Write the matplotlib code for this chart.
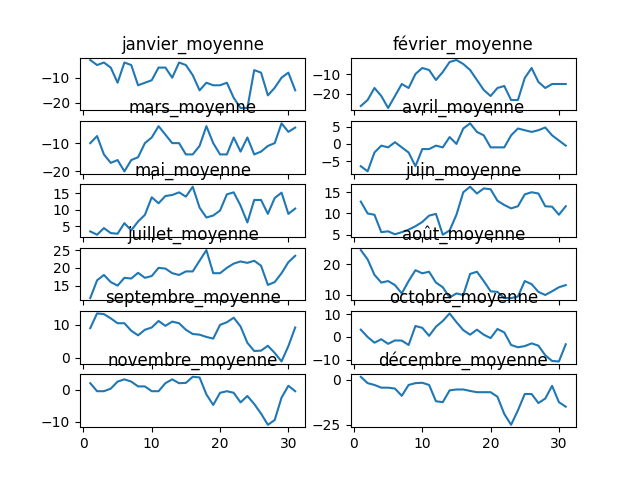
import matplotlib
matplotlib.use("Agg")
import matplotlib.pyplot as plt
import numpy as np

days = list(range(1, 32))
janvier = [-3,-5,-4,-6,-12,-4,-5,-13,-12,-11,-6,-6,-10,-4,-5,-9,-15,-12,-13,-13,-12,-18,-22,-22,-7,-8,-17,-14,-10,-8,-15]
fevrier = [-26,-23,-17,-21,-27,-21,-15,-17,-10,-7,-8,-13,-9,-4,-3,-5,-8,-13,-18,-21,-17,-16,-23,-23,-12,-7,-14,-17,-15,-15,-15]
mars = [-10,-7.5,-14,-17,-16,-20,-16,-15,-10,-8,-4,-7,-10,-10,-14,-14,-11,-4,-10,-14,-14,-8,-13,-8,-14,-13,-11,-10,-3,-6,-4.5]
avril = [-6.5,-8,-2.5,-0.5,-1,0.5,-1,-2.5,-6.5,-1.5,-1.5,-0.5,-1,2,0,4.5,6,3.5,2.5,-1,-1,-1,2.5,4.5,4,3.5,4,4.8,2.5,1,-0.5]
mai = [3.5,2.5,4.5,3,2.8,6,3.8,6.5,8.5,13.8,12,14.2,14.5,15.3,14,17,10.7,7.7,8.3,9.8,14.7,15.3,11.3,6.2,13,13,8.8,13.6,15.2,8.8,10.4]
juin = [12.8,10,9.7,5.6,5.8,5.1,5.6,6.2,7,8,9.5,9.9,5,6,9.7,15,16.3,14.7,15.9,15.7,13,12,11.2,11.7,11.7,14.5,15,14.7,11.7,11.6,9.7][:30] + [11.7]
juillet = [11.5,16.5,18,16,15,17.2,17,18.6,17.2,17.7,20,19.8,18.5,18,19,19,22,25,18.5,18.5,20,21.2,21.8,21.4,22,20.6,15.2,16,18.5,21.6,23.4]
aout = [24.5,21.5,16.5,14,14.5,13.2,10.5,14.5,18,17,17.5,14,12.5,9.2,10.5,10,16.8,17.5,14.5,11.2,11,9,9,9.5,14.5,13.5,11,10,11.2,12.5,13.2]
septembre = [9,13.5,13.3,12,10.5,10.5,8.2,6.8,8.5,9.2,11.2,9.7,11,10.5,8.5,7.2,7,6.3,5.8,10,10.8,12.2,9.5,4.5,2,2.1,3.6,1.4,-1.2,3.5,9.2]
octobre = [3.2,0,-2.5,-1,-3,-1.5,-1.6,-3.5,4.8,4,0.5,4.5,7,10.3,6.5,3,1,3.2,1,-0.5,3.5,2,-3.5,-4.5,-4,-2.8,-3.8,-8,-10.5,-10.7,-3.2]
novembre = [2,-0.5,-0.5,0.3,2.5,3.2,2.5,1,1,-0.5,-0.5,2,3.2,2,2.1,4,3.8,-1.5,-4.8,-1,-0.5,-1,-4,-2,-4.5,-7.5,-11,-9.5,-2.5,1.2,-0.5]
decembre = [1.5,-2,-3,-4.5,-4.5,-5,-9,-3,-2,-1.8,-3,-12,-12.5,-6,-5.5,-5.5,-6.3,-7,-7,-7,-9.5,-19,-25,-17,-8,-8,-13,-10.5,-3.5,-12.5,-15]

# fix juin to 31 values
juin = [12.8,10,9.7,5.6,5.8,5.1,5.6,6.2,7,8,9.5,9.9,5,6,9.7,15,16.3,14.7,15.9,15.7,13,12,11.2,11.7,14.5,15,14.7,11.7,11.6,9.7,11.7]

titles = ["janvier_moyenne","février_moyenne","mars_moyenne","avril_moyenne",
          "mai_moyenne","juin_moyenne","juillet_moyenne","août_moyenne",
          "septembre_moyenne","octobre_moyenne","novembre_moyenne","décembre_moyenne"]
series = [janvier,fevrier,mars,avril,mai,juin,juillet,aout,septembre,octobre,novembre,decembre]

fig, axes = plt.subplots(6, 2, sharex=True, figsize=(6.4, 4.8), dpi=100)
for ax, t, s in zip(axes.flat, titles, series):
    ax.plot(days, s)
    ax.set_title(t)
fig.savefig("out.png")
